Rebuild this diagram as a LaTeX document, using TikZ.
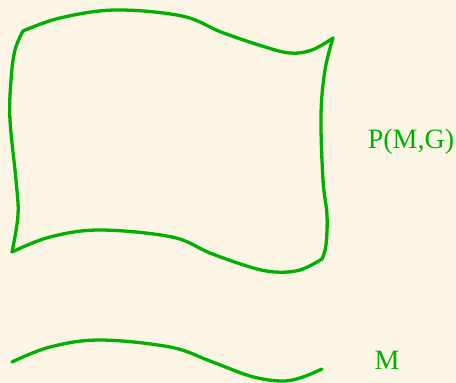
\documentclass[tikz,border=0pt]{standalone}
\usepackage{fontspec}
\setmainfont{Liberation Serif}
\usepackage{tikz}
\usetikzlibrary{positioning}
\definecolor{paper}{RGB}{252,245,230}
\definecolor{leaf}{RGB}{0,176,0}

\begin{document}
\begin{tikzpicture}[
x=1pt,y=-1pt,
sketch/.style={
draw=leaf,
line width=3.3pt,
line cap=round,
line join=round
},
label/.style={
draw=none,
text=leaf,
inner sep=0pt,
font=\fontsize{28}{31}\selectfont
}]

\fill[paper] (0,0) rectangle (456,383);
\useasboundingbox (0,0) rectangle (456,383);

% bundle P(M,G)
\draw[sketch] plot[smooth,tension=0.6] coordinates {(23,31) (60,18) (115,10) (182,16) (221,32) (262,46) (290,53) (312,50) (333,38)};
\draw[sketch] plot[smooth,tension=0.6] coordinates {(333,38) (325,70) (321,115) (323,180) (327,215) (326,245) (322,259)};
\draw[sketch] plot[smooth,tension=0.6] coordinates {(322,259) (300,270) (275,272) (250,267) (210,253) (172,237) (100,230) (50,237) (12,252)};
\draw[sketch] plot[smooth,tension=0.6] coordinates {(12,252) (18,215) (16,180) (10,120) (11,80) (15,50) (23,31)};

% base M
\draw[sketch] plot[smooth,tension=0.6] coordinates {(12,362) (50,347) (100,340) (170,347) (210,361) (250,376) (280,381) (300,378) (322,369)};

\node[label] (bundle) at (411,142) {P(M,G)};
\node[label] (base) at (387,360) {M};

\end{tikzpicture}
\end{document}
